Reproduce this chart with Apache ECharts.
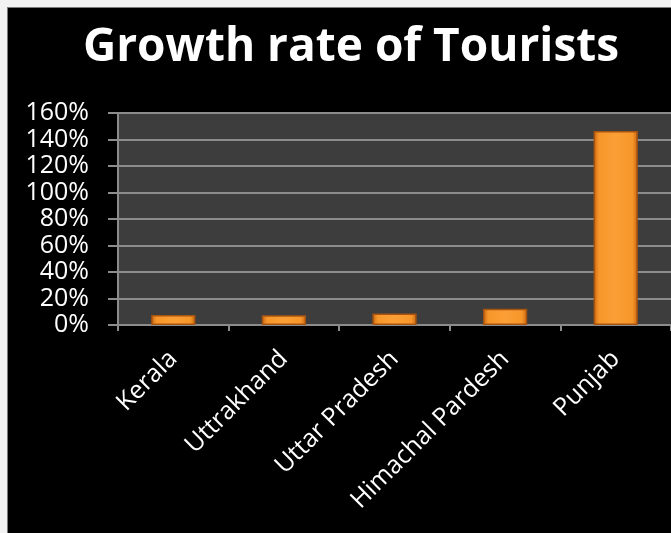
<!DOCTYPE html>
<html>
<head>
<meta charset="utf-8">
<script src="https://cdn.jsdelivr.net/npm/echarts@6/dist/echarts.min.js"></script>
<style>
html,body{margin:0;padding:0;background:#f2f2f2;width:671px;height:533px;overflow:hidden;}
#frame{position:absolute;left:7px;top:7px;width:664px;height:526px;background:#000;border-left:1px solid #7a7a7a;border-top:1px solid #7a7a7a;}
#chart{position:absolute;left:0;top:0;width:664px;height:526px;}
</style>
</head>
<body>
<div id="frame"><div id="chart"></div></div>
<script>
const titleText = "Growth rate of Tourists";
const categories = ["Kerala", "Uttrakhand", "Uttar Pradesh", "Himachal Pardesh", "Punjab"];
const growthRate = [7.5, 7.3, 8.7, 12.2, 146.4];
const yTicks = [0, 20, 40, 60, 80, 100, 120, 140, 160];

const chart = echarts.init(document.getElementById('chart'), null, {renderer: 'canvas'});
const barColor = {
  type: 'linear', x: 0, y: 0, x2: 1, y2: 0,
  colorStops: [
    {offset: 0, color: '#c9650f'},
    {offset: 0.12, color: '#f7962a'},
    {offset: 0.5, color: '#fa9f36'},
    {offset: 0.88, color: '#f7962a'},
    {offset: 1, color: '#c9650f'}
  ]
};
chart.setOption({
  backgroundColor: '#000',
  animation: false,
  title: {
    text: titleText,
    left: 338, top: 12, textAlign: 'center',
    textStyle: {color: '#ffffff', fontFamily: 'Open Sans', fontWeight: 'bold', fontSize: 46}
  },
  grid: {left: 110, top: 105, right: 1, bottom: 209, backgroundColor: '#3d3d3d', show: true, borderWidth: 0},
  xAxis: {
    type: 'category', data: categories,
    axisLine: {show: true, lineStyle: {color: '#8c8c8c', width: 2}},
    axisTick: {show: true, length: 6, lineStyle: {color: '#8c8c8c', width: 2}},
    axisLabel: {rotate: 45, color: '#ffffff', fontFamily: 'Open Sans', fontSize: 25, margin: 30}
  },
  yAxis: {
    type: 'value', min: yTicks[0], max: yTicks[yTicks.length - 1], interval: 20,
    axisLine: {show: true, lineStyle: {color: '#8c8c8c', width: 2}},
    axisTick: {show: true, length: 10, lineStyle: {color: '#8c8c8c', width: 2}},
    splitLine: {show: true, lineStyle: {color: '#8c8c8c', width: 2}},
    axisLabel: {color: '#ffffff', fontFamily: 'Open Sans', fontSize: 25, margin: 29, formatter: v => v + '%'}
  },
  series: [{
    type: 'bar', data: growthRate, barWidth: '40%',
    itemStyle: {color: barColor, borderColor: '#a85410', borderWidth: 1.5}
  }]
});
</script>
</body>
</html>
